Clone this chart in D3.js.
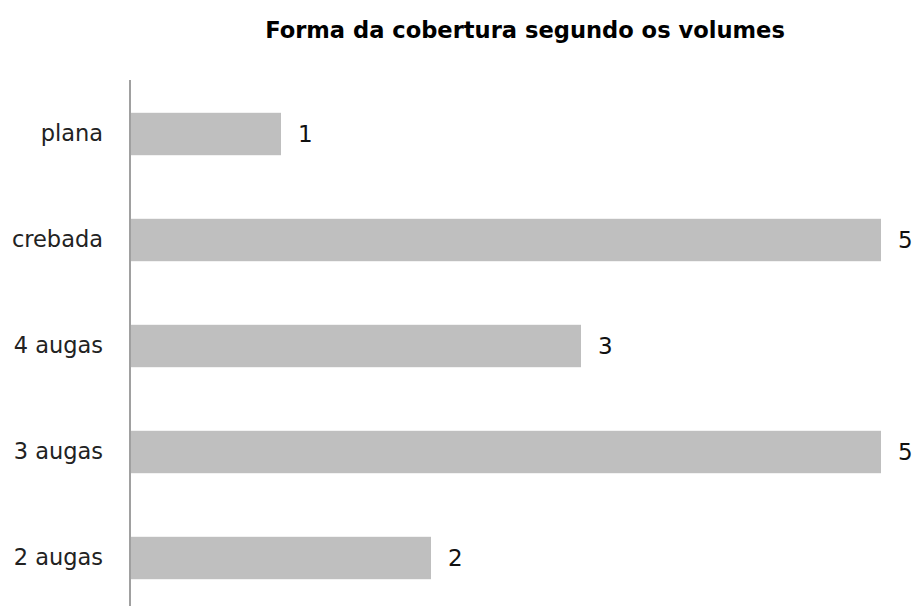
<!DOCTYPE html>
<html>
<head>
<meta charset="utf-8">
<script src="https://cdn.jsdelivr.net/npm/d3@7"></script>
<style>
  html, body { margin: 0; padding: 0; background: #fff; }
  svg { display: block; }
  text { font-family: "DejaVu Sans", Verdana, sans-serif; }
</style>
</head>
<body>
<svg id="chart" width="918" height="606"></svg>
<script>
// Roof shape counts by volume
const categories = ["plana", "crebada", "4 augas", "3 augas", "2 augas"];
const values = [1, 5, 3, 5, 2];
const title = "Forma da cobertura segundo os volumes";

const svg = d3.select("#chart");
const margin = { left: 130, top: 81 };

const x = d3.scaleLinear().domain([0, 5]).range([margin.left + 1, margin.left + 1 + 750]);
const y = d3.scaleBand().domain(categories).range([81, 611]).paddingInner(0.6).paddingOuter(0.3);

svg.append("text")
  .attr("x", 525).attr("y", 38)
  .attr("text-anchor", "middle")
  .attr("font-size", 22.6).attr("font-weight", "bold")
  .attr("fill", "#000")
  .text(title);

svg.selectAll("rect.bar")
  .data(values)
  .join("rect")
  .attr("class", "bar")
  .attr("x", x(0))
  .attr("y", (d, i) => y(categories[i]))
  .attr("width", d => x(d) - x(0))
  .attr("height", y.bandwidth())
  .attr("fill", "#bfbfbf");

// Category axis (line only, labels drawn to the left)
const yAxis = d3.axisLeft(y).tickSize(0).tickPadding(27);
const g = svg.append("g").attr("transform", `translate(${margin.left},0)`).call(yAxis);
g.select(".domain").attr("stroke", "#808080").attr("stroke-width", 1.5)
  .attr("d", `M0,80V606`);
g.selectAll(".tick text")
  .attr("font-size", 22.5).attr("fill", "#222")
  .attr("font-family", "\"DejaVu Sans\", Verdana, sans-serif");

svg.selectAll("text.val")
  .data(values)
  .join("text")
  .attr("class", "val")
  .attr("x", d => x(d) + 17)
  .attr("y", (d, i) => y(categories[i]) + y.bandwidth() / 2)
  .attr("dy", "0.35em")
  .attr("font-size", 23).attr("fill", "#111")
  .text(d => d);
</script>
</body>
</html>
